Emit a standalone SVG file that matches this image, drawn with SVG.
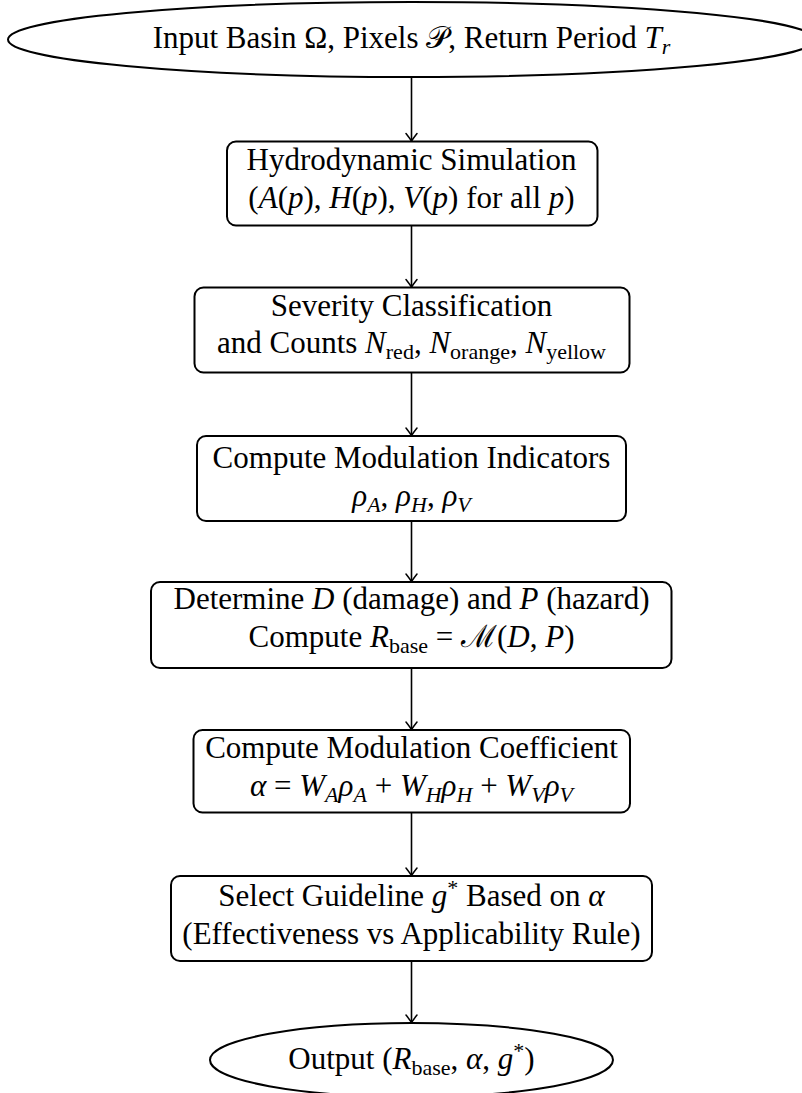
<svg xmlns="http://www.w3.org/2000/svg" width="802" height="1093" viewBox="0 0 802 1093">
<style>
.shape{fill:#fff;stroke:#000;stroke-width:2}
.lbl{font-family:"Liberation Serif","Times New Roman",serif;font-size:31px;fill:#000;text-anchor:middle}
.i{font-style:italic}
.sub{font-size:22px}
.conn{stroke:#000;stroke-width:1.6;fill:none}
</style>
<defs>
<marker id="arr" markerUnits="userSpaceOnUse" viewBox="-9 -7 11 14" markerWidth="11" markerHeight="14" refX="0" refY="0" orient="auto">
<path d="M -7.5,-5.5 Q -2.2,-1.4 0,0 Q -2.2,1.4 -7.5,5.5" fill="none" stroke="#000" stroke-width="1.5" stroke-linecap="round"/>
</marker>
</defs>
<rect width="802" height="1093" fill="#fff"/>
<g id="connectors">
<line class="conn" x1="411.5" y1="77" x2="411.5" y2="141" marker-end="url(#arr)"/>
<line class="conn" x1="411.5" y1="225.5" x2="411.5" y2="287" marker-end="url(#arr)"/>
<line class="conn" x1="411.5" y1="372.5" x2="411.5" y2="435.5" marker-end="url(#arr)"/>
<line class="conn" x1="411.5" y1="521" x2="411.5" y2="581.5" marker-end="url(#arr)"/>
<line class="conn" x1="411.5" y1="668" x2="411.5" y2="729.5" marker-end="url(#arr)"/>
<line class="conn" x1="411.5" y1="812.5" x2="411.5" y2="875.5" marker-end="url(#arr)"/>
<line class="conn" x1="411.5" y1="961" x2="411.5" y2="1022.5" marker-end="url(#arr)"/>
</g>
<g id="input">
<ellipse class="shape" cx="411.5" cy="39.5" rx="403.5" ry="37.5"/>
<text class="lbl" x="411.5" y="48">Input Basin Ω, Pixels 𝒫, Return Period <tspan class="i">T</tspan><tspan class="i sub" dy="6">r</tspan></text>
</g>
<g id="simulation">
<rect class="shape" x="227" y="141.5" width="370.5" height="84" rx="9"/>
<text class="lbl" x="411.5" y="170">Hydrodynamic Simulation</text>
<text class="lbl" x="411.5" y="208">(<tspan class="i">A</tspan>(<tspan class="i">p</tspan>), <tspan class="i">H</tspan>(<tspan class="i">p</tspan>), <tspan class="i">V</tspan>(<tspan class="i">p</tspan>) for all <tspan class="i">p</tspan>)</text>
</g>
<g id="severity">
<rect class="shape" x="194.5" y="287.5" width="435" height="85" rx="9"/>
<text class="lbl" x="411.5" y="316">Severity Classification</text>
<text class="lbl" x="411.5" y="353">and Counts <tspan class="i">N</tspan><tspan class="sub" dy="6">red</tspan><tspan dy="-6">, </tspan><tspan class="i">N</tspan><tspan class="sub" dy="6">orange</tspan><tspan dy="-6">, </tspan><tspan class="i">N</tspan><tspan class="sub" dy="6">yellow</tspan></text>
</g>
<g id="indicators">
<rect class="shape" x="197" y="436" width="429" height="85" rx="9"/>
<text class="lbl" x="411.5" y="468">Compute Modulation Indicators</text>
<text class="lbl" x="411.5" y="506"><tspan class="i">ρ</tspan><tspan class="i sub" dy="6">A</tspan><tspan dy="-6">, </tspan><tspan class="i">ρ</tspan><tspan class="i sub" dy="6">H</tspan><tspan dy="-6">, </tspan><tspan class="i">ρ</tspan><tspan class="i sub" dy="6">V</tspan></text>
</g>
<g id="determine">
<rect class="shape" x="151" y="582" width="520.5" height="86" rx="9"/>
<text class="lbl" x="411.5" y="609">Determine <tspan class="i">D</tspan> (damage) and <tspan class="i">P</tspan> (hazard)</text>
<text class="lbl" x="411.5" y="647">Compute <tspan class="i">R</tspan><tspan class="sub" dy="6">base</tspan><tspan dy="-6"> = </tspan>ℳ(<tspan class="i">D</tspan>, <tspan class="i">P</tspan>)</text>
</g>
<g id="coefficient">
<rect class="shape" x="193.5" y="730" width="436.5" height="82.5" rx="9"/>
<text class="lbl" x="411.5" y="758">Compute Modulation Coefficient</text>
<text class="lbl" x="411.5" y="796"><tspan class="i">α</tspan> = <tspan class="i">W</tspan><tspan class="i sub" dy="6">A</tspan><tspan class="i" dy="-6">ρ</tspan><tspan class="i sub" dy="6">A</tspan><tspan dy="-6"> + </tspan><tspan class="i">W</tspan><tspan class="i sub" dy="6">H</tspan><tspan class="i" dy="-6">ρ</tspan><tspan class="i sub" dy="6">H</tspan><tspan dy="-6"> + </tspan><tspan class="i">W</tspan><tspan class="i sub" dy="6">V</tspan><tspan class="i" dy="-6">ρ</tspan><tspan class="i sub" dy="6">V</tspan></text>
</g>
<g id="guideline">
<rect class="shape" x="171" y="876" width="481" height="85" rx="9"/>
<text class="lbl" x="411.5" y="906">Select Guideline <tspan class="i">g</tspan><tspan class="sub" dy="-11">*</tspan><tspan dy="11"> Based on </tspan><tspan class="i">α</tspan></text>
<text class="lbl" x="411.5" y="944">(Effectiveness vs Applicability Rule)</text>
</g>
<g id="output">
<ellipse class="shape" cx="411.5" cy="1060" rx="201.5" ry="37"/>
<text class="lbl" x="411.5" y="1069">Output (<tspan class="i">R</tspan><tspan class="sub" dy="6">base</tspan><tspan dy="-6">, </tspan><tspan class="i">α</tspan>, <tspan class="i">g</tspan><tspan class="sub" dy="-11">*</tspan><tspan dy="11">)</tspan></text>
</g>
</svg>
